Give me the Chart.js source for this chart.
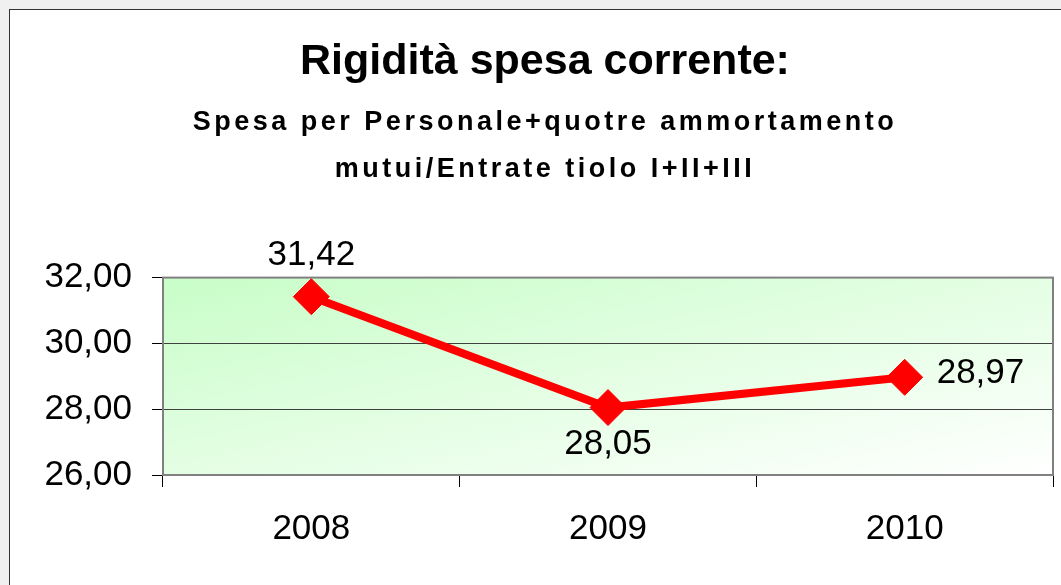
<!DOCTYPE html>
<html lang="it">
<head>
    <meta charset="UTF-8">
    <title>Rigidità spesa corrente</title>
    <script src="https://cdn.jsdelivr.net/npm/chart.js"></script>
    <style>
        body { margin: 0; background: #f0f0f0; overflow: hidden; }
        #frame {
            position: absolute; left: 9px; top: 9px;
            width: 1080px; height: 600px;
            background: #fff; border: 1px solid #333;
        }
    </style>
</head>
<body>
    <div id="frame">
        <canvas id="myChart" width="1070" height="590"></canvas>
    </div>
    <script>
        // dati
        const anni = ['2008', '2009', '2010'];
        const valori = [31.42, 28.05, 28.97];
        const posEtichette = ['top', 'bottom', 'right'];
        const titolo = 'Rigidità spesa corrente:';
        const sottotitolo = ['Spesa per Personale+quotre ammortamento', 'mutui/Entrate tiolo I+II+III'];

        const FONT = "'Liberation Sans', Arial, sans-serif";
        const fmt = v => v.toFixed(2).replace('.', ',');

        // sfondo sfumato dell'area del grafico + bordo
        const areaPlugin = {
            id: 'area',
            beforeDraw(chart) {
                const { ctx, chartArea: a } = chart;
                ctx.save();
                // sfumatura diagonale in coordinate normalizzate (come Excel)
                ctx.translate(a.left, a.top);
                ctx.scale(a.right - a.left, a.bottom - a.top);
                const g = ctx.createLinearGradient(0, 0, 1, 1);
                g.addColorStop(0, '#c8fdc8');
                g.addColorStop(1, '#ffffff');
                ctx.fillStyle = g;
                ctx.fillRect(0, 0, 1, 1);
                ctx.restore();
                // spaziatura lettere del sottotitolo
                chart.boxes.forEach(b => {
                    if (b.options && Array.isArray(b.options.text) && b.options.text[0] === sottotitolo[0] && !b._spaced) {
                        const orig = b.draw.bind(b);
                        b.draw = function (ca) {
                            chart.ctx.save();
                            chart.ctx.letterSpacing = '3.5px';
                            orig(ca);
                            chart.ctx.restore();
                        };
                        b._spaced = true;
                    }
                });
            },
            beforeDatasetsDraw(chart) {
                const { ctx, chartArea: a } = chart;
                ctx.save();
                ctx.strokeStyle = '#808080';
                ctx.lineWidth = 2;
                ctx.strokeRect(a.left, a.top, a.right - a.left, a.bottom - a.top);
                ctx.restore();
            }
        };

        // etichette dei valori
        const labelPlugin = {
            id: 'valori',
            afterDatasetsDraw(chart) {
                const ctx = chart.ctx;
                const meta = chart.getDatasetMeta(0);
                ctx.save();
                ctx.font = '35px ' + FONT;
                ctx.fillStyle = '#000';
                ctx.textBaseline = 'middle';
                meta.data.forEach((pt, i) => {
                    const txt = fmt(valori[i]);
                    const pos = posEtichette[i];
                    if (pos === 'top') {
                        ctx.textAlign = 'center';
                        ctx.fillText(txt, pt.x, pt.y - 41);
                    } else if (pos === 'bottom') {
                        ctx.textAlign = 'center';
                        ctx.fillText(txt, pt.x, pt.y + 37);
                    } else {
                        ctx.textAlign = 'left';
                        ctx.fillText(txt, pt.x + 32, pt.y - 4);
                    }
                });
                ctx.restore();
            }
        };

        const ctx = document.getElementById('myChart').getContext('2d');
        const myChart = new Chart(ctx, {
            type: 'line',
            data: {
                labels: anni,
                datasets: [{
                    data: valori,
                    borderColor: '#ff0000',
                    backgroundColor: '#ff0000',
                    borderWidth: 8,
                    tension: 0,
                    fill: false,
                    pointStyle: 'rectRot',
                    pointRadius: 18,
                    pointHoverRadius: 18,
                    pointBorderWidth: 1
                }]
            },
            options: {
                responsive: false,
                animation: false,
                layout: { padding: { left: 27, right: 27, top: 0, bottom: 35 } },
                plugins: {
                    legend: { display: false },
                    tooltip: { enabled: false },
                    title: {
                        display: true,
                        text: titolo,
                        color: '#000',
                        font: { family: FONT, size: 43, weight: 'bold', lineHeight: 1.2 },
                        padding: { top: 26.5, bottom: 0 }
                    },
                    subtitle: {
                        display: true,
                        text: sottotitolo,
                        color: '#000',
                        font: { family: FONT, size: 27, weight: 'bold', lineHeight: 1.75 },
                        padding: { top: 11, bottom: 84 }
                    }
                },
                scales: {
                    x: {
                        offset: true,
                        afterFit(s) { s.height = 90; },
                        grid: {
                            offset: true,
                            drawOnChartArea: false,
                            tickLength: 12,
                            tickColor: '#000',
                            tickWidth: 1
                        },
                        border: { display: false },
                        ticks: { color: '#000', padding: 21, font: { family: FONT, size: 35 } }
                    },
                    y: {
                        min: 26,
                        max: 32,
                        afterFit(s) { s.width = 126; },
                        grid: {
                            color: '#404040',
                            lineWidth: 1,
                            tickLength: 11,
                            tickColor: '#000'
                        },
                        border: { display: false },
                        ticks: {
                            stepSize: 2,
                            color: '#000',
                            padding: 20,
                            font: { family: FONT, size: 35 },
                            callback: v => fmt(v)
                        }
                    }
                }
            },
            plugins: [areaPlugin, labelPlugin]
        });
    </script>
</body>
</html>
